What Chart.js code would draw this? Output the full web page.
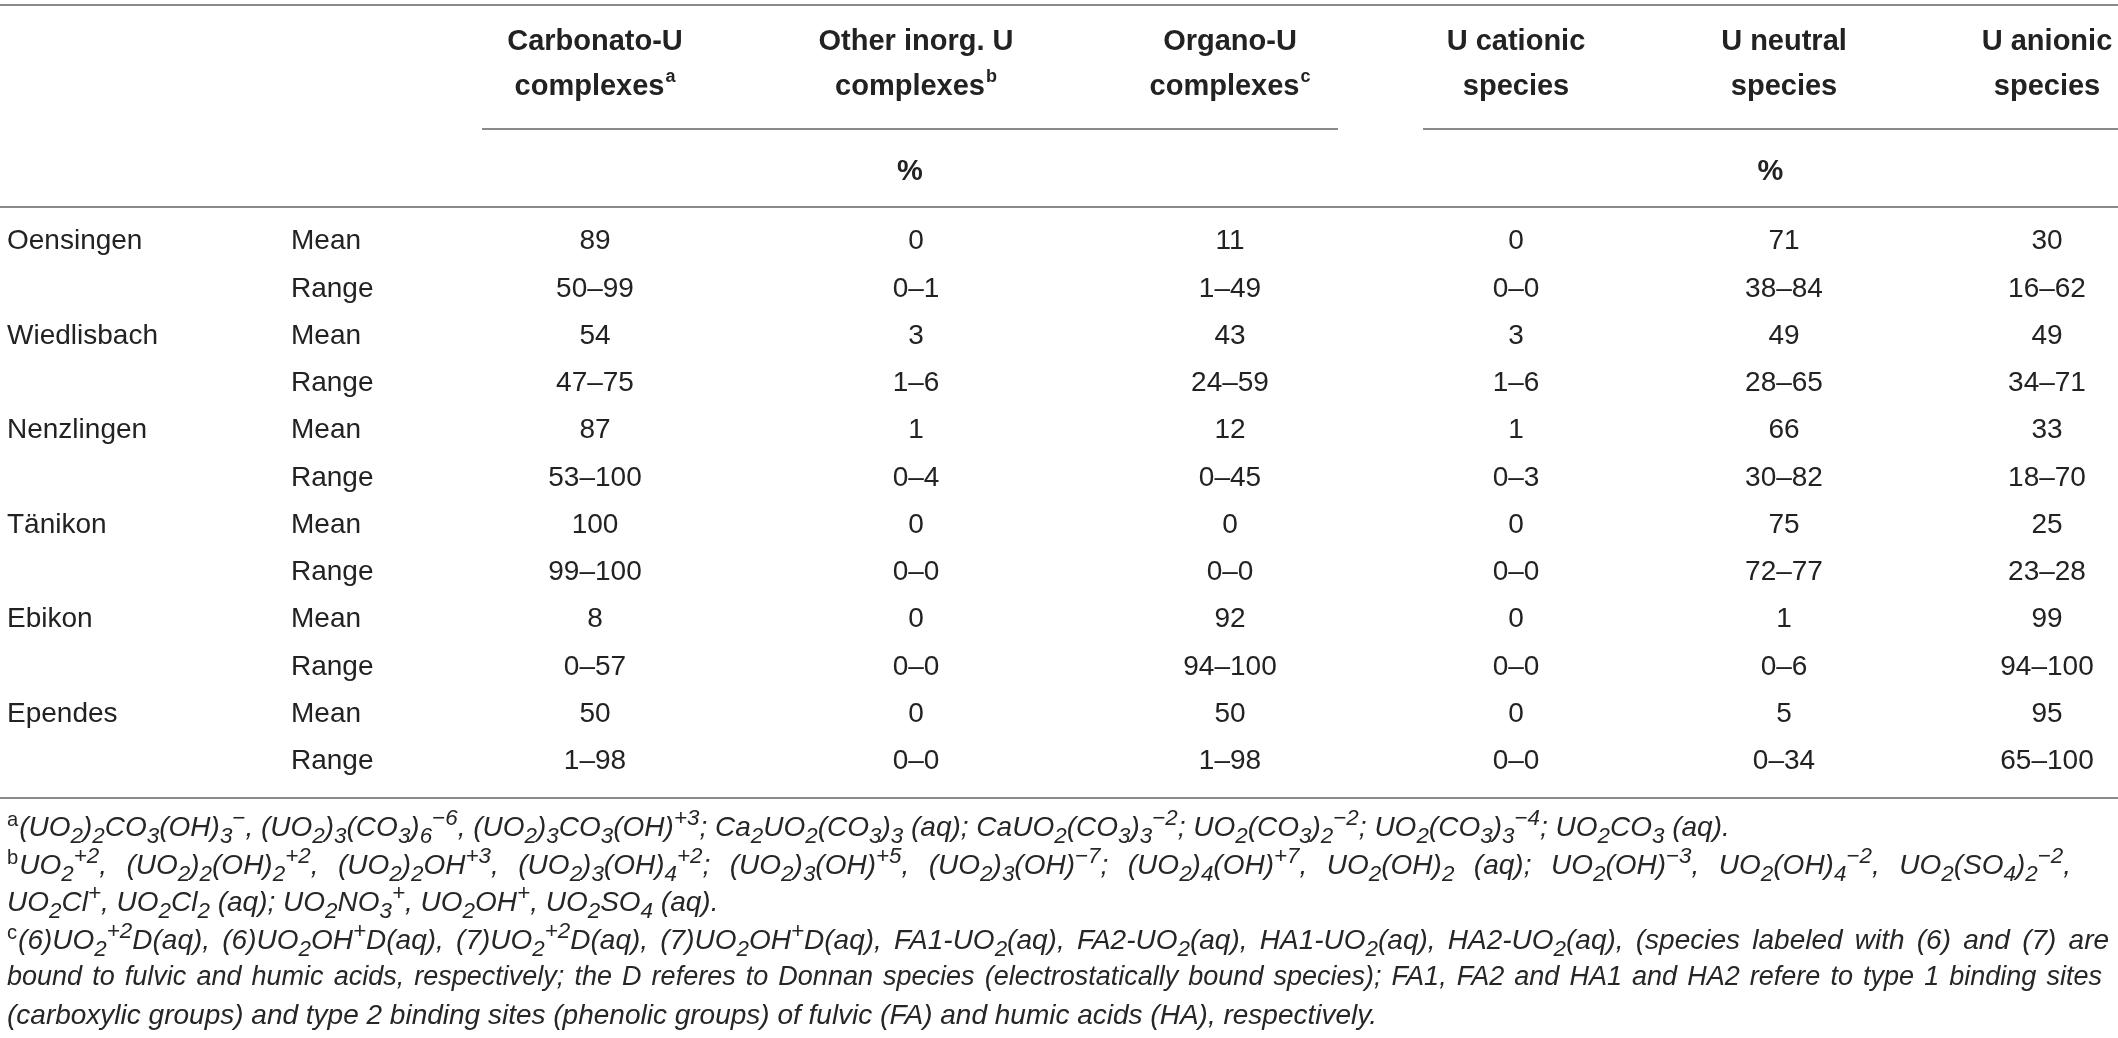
<!DOCTYPE html>
<html>
<head>
<meta charset="utf-8">
<script src="https://cdn.jsdelivr.net/npm/chart.js@4.4.1/dist/chart.umd.min.js"></script>
<style>
  html, body { margin: 0; padding: 0; background: #fff; }
  #wrap { position: relative; width: 2118px; height: 1038px; overflow: hidden; }
  #notes {
    position: absolute; left: 7px; top: 808px; width: 2104px;
    font-family: "Liberation Sans", Arial, sans-serif; font-style: italic;
    font-size: 28px; line-height: 37.6px; color: #262626;
  }
  #notes .ln { white-space: nowrap; }
  #notes .j { text-align: justify; text-align-last: justify; white-space: normal; }
  #notes sub, #notes sup { font-size: 0.8em; line-height: 0; }
  #notes sub { vertical-align: -0.3em; }
  #notes sup { vertical-align: 0.5em; }
  #notes .mk { font-style: normal; font-size: 0.72em; vertical-align: 0.5em; line-height: 0; margin-right: 1px; }
</style>
</head>
<body>
<div id="wrap">
  <canvas id="u-species"></canvas>
  <div id="notes">
    <div class="ln"><span class="mk">a</span>(UO<sub>2</sub>)<sub>2</sub>CO<sub>3</sub>(OH)<sub>3</sub><sup>−</sup>, (UO<sub>2</sub>)<sub>3</sub>(CO<sub>3</sub>)<sub>6</sub><sup>−6</sup>, (UO<sub>2</sub>)<sub>3</sub>CO<sub>3</sub>(OH)<sup>+3</sup>; Ca<sub>2</sub>UO<sub>2</sub>(CO<sub>3</sub>)<sub>3</sub> (aq); CaUO<sub>2</sub>(CO<sub>3</sub>)<sub>3</sub><sup>−2</sup>; UO<sub>2</sub>(CO<sub>3</sub>)<sub>2</sub><sup>−2</sup>; UO<sub>2</sub>(CO<sub>3</sub>)<sub>3</sub><sup>−4</sup>; UO<sub>2</sub>CO<sub>3</sub> (aq).</div>
    <div class="ln j" style="width:2064px"><span class="mk">b</span>UO<sub>2</sub><sup>+2</sup>, (UO<sub>2</sub>)<sub>2</sub>(OH)<sub>2</sub><sup>+2</sup>, (UO<sub>2</sub>)<sub>2</sub>OH<sup>+3</sup>, (UO<sub>2</sub>)<sub>3</sub>(OH)<sub>4</sub><sup>+2</sup>; (UO<sub>2</sub>)<sub>3</sub>(OH)<sup>+5</sup>, (UO<sub>2</sub>)<sub>3</sub>(OH)<sup>−7</sup>; (UO<sub>2</sub>)<sub>4</sub>(OH)<sup>+7</sup>, UO<sub>2</sub>(OH)<sub>2</sub> (aq); UO<sub>2</sub>(OH)<sup>−3</sup>, UO<sub>2</sub>(OH)<sub>4</sub><sup>−2</sup>, UO<sub>2</sub>(SO<sub>4</sub>)<sub>2</sub><sup>−2</sup>,</div>
    <div class="ln">UO<sub>2</sub>Cl<sup>+</sup>, UO<sub>2</sub>Cl<sub>2</sub> (aq); UO<sub>2</sub>NO<sub>3</sub><sup>+</sup>, UO<sub>2</sub>OH<sup>+</sup>, UO<sub>2</sub>SO<sub>4</sub> (aq).</div>
    <div class="ln j" style="width:2102px"><span class="mk">c</span>(6)UO<sub>2</sub><sup>+2</sup>D(aq), (6)UO<sub>2</sub>OH<sup>+</sup>D(aq), (7)UO<sub>2</sub><sup>+2</sup>D(aq), (7)UO<sub>2</sub>OH<sup>+</sup>D(aq), FA1-UO<sub>2</sub>(aq), FA2-UO<sub>2</sub>(aq), HA1-UO<sub>2</sub>(aq), HA2-UO<sub>2</sub>(aq), (species labeled with (6) and (7) are</div>
    <div class="ln j" style="width:2095px;font-size:27px">bound to fulvic and humic acids, respectively; the D referes to Donnan species (electrostatically bound species); FA1, FA2 and HA1 and HA2 refere to type 1 binding sites</div>
    <div class="ln">(carboxylic groups) and type 2 binding sites (phenolic groups) of fulvic (FA) and humic acids (HA), respectively.</div>
  </div>
</div>
<script>
// table data
var sites = ["Oensingen", "Wiedlisbach", "Nenzlingen", "Tänikon", "Ebikon", "Ependes"];
var statLabels = ["Mean", "Range"];

var carbonatoMean = [89, 54, 87, 100, 8, 50];
var carbonatoRange = [[50, 99], [47, 75], [53, 100], [99, 100], [0, 57], [1, 98]];
var otherInorgMean = [0, 3, 1, 0, 0, 0];
var otherInorgRange = [[0, 1], [1, 6], [0, 4], [0, 0], [0, 0], [0, 0]];
var organoMean = [11, 43, 12, 0, 92, 50];
var organoRange = [[1, 49], [24, 59], [0, 45], [0, 0], [94, 100], [1, 98]];
var cationicMean = [0, 3, 1, 0, 0, 0];
var cationicRange = [[0, 0], [1, 6], [0, 3], [0, 0], [0, 0], [0, 0]];
var neutralMean = [71, 49, 66, 75, 1, 5];
var neutralRange = [[38, 84], [28, 65], [30, 82], [72, 77], [0, 6], [0, 34]];
var anionicMean = [30, 49, 33, 25, 99, 95];
var anionicRange = [[16, 62], [34, 71], [18, 70], [23, 28], [94, 100], [65, 100]];

var columnHeads = [
  ["Carbonato-U", "complexes", "a"],
  ["Other inorg. U", "complexes", "b"],
  ["Organo-U", "complexes", "c"],
  ["U cationic", "species", ""],
  ["U neutral", "species", ""],
  ["U anionic", "species", ""]
];
var groupUnits = ["%", "%"];

// layout (table units = px of the 2118 wide page)
var colX = [595, 916, 1230, 1516, 1784, 2047];
var siteX = 7;
var statX = 291;
var groupSpans = [[482, 1338], [1423, 2118]];
var textColor = "#222";
var ruleColor = "#8a8a8a";
var bodyFont = "28px 'Liberation Sans', Arial, sans-serif";
var headFont = "bold 29px 'Liberation Sans', Arial, sans-serif";
var supFont = "bold 18px 'Liberation Sans', Arial, sans-serif";

function rangeText(r) { return r[0] + "–" + r[1]; }

var columns = [
  [carbonatoMean, carbonatoRange],
  [otherInorgMean, otherInorgRange],
  [organoMean, organoRange],
  [cationicMean, cationicRange],
  [neutralMean, neutralRange],
  [anionicMean, anionicRange]
];

var datasets = columns.map(function (col, k) {
  var pts = [];
  sites.forEach(function (s, i) {
    pts.push({ x: colX[k], y: i * 2, text: String(col[0][i]) });
    pts.push({ x: colX[k], y: i * 2 + 1, text: rangeText(col[1][i]) });
  });
  return { label: columnHeads[k][0], data: pts, pointRadius: 0, pointHoverRadius: 0 };
});

function rule(ctx, x1, x2, y) {
  ctx.beginPath();
  ctx.moveTo(x1, y);
  ctx.lineTo(x2, y);
  ctx.stroke();
}

var tablePlugin = {
  id: "tableText",
  afterDatasetsDraw: function (chart) {
    var ctx = chart.ctx;
    var y = chart.scales.y;
    var w = chart.width;
    ctx.save();

    // rules
    ctx.strokeStyle = ruleColor;
    ctx.lineWidth = 2;
    rule(ctx, 0, w, 5);
    groupSpans.forEach(function (g) { rule(ctx, g[0], g[1], 129); });
    rule(ctx, 0, w, 207);
    rule(ctx, 0, w, 798);

    // header
    ctx.fillStyle = textColor;
    ctx.textBaseline = "middle";
    columnHeads.forEach(function (h, k) {
      ctx.font = headFont;
      ctx.textAlign = "center";
      ctx.fillText(h[0], colX[k], 42);
      var w1 = ctx.measureText(h[1]).width;
      ctx.font = supFont;
      var w2 = h[2] ? ctx.measureText(h[2]).width + 1 : 0;
      var left = colX[k] - (w1 + w2) / 2;
      ctx.textAlign = "left";
      ctx.font = headFont;
      ctx.fillText(h[1], left, 87);
      if (h[2]) {
        ctx.font = supFont;
        ctx.fillText(h[2], left + w1 + 1, 77);
      }
    });
    ctx.font = headFont;
    ctx.textAlign = "center";
    groupSpans.forEach(function (g, k) {
      ctx.fillText(groupUnits[k], (g[0] + g[1]) / 2, 172);
    });

    // row labels
    ctx.font = bodyFont;
    ctx.textAlign = "left";
    sites.forEach(function (s, i) {
      ctx.fillText(s, siteX, y.getPixelForValue(i * 2));
      statLabels.forEach(function (st, j) {
        ctx.fillText(st, statX, y.getPixelForValue(i * 2 + j));
      });
    });

    // cells
    ctx.textAlign = "center";
    chart.data.datasets.forEach(function (ds, di) {
      var meta = chart.getDatasetMeta(di);
      meta.data.forEach(function (el, i) {
        ctx.fillText(ds.data[i].text, el.x, el.y);
      });
    });
    ctx.restore();
  }
};

var ctx = document.getElementById("u-species");
new Chart(ctx, {
  type: "scatter",
  data: { datasets: datasets },
  options: {
    responsive: true,
    maintainAspectRatio: false,
    animation: false,
    events: [],
    layout: { padding: { top: 218, bottom: 253, left: 0, right: 0 } },
    plugins: { legend: { display: false }, tooltip: { enabled: false } },
    scales: {
      x: { type: "linear", min: 0, max: 2118, display: false },
      y: { type: "linear", min: -0.5, max: 11.5, reverse: true, display: false }
    }
  },
  plugins: [tablePlugin]
});
</script>
</body>
</html>
